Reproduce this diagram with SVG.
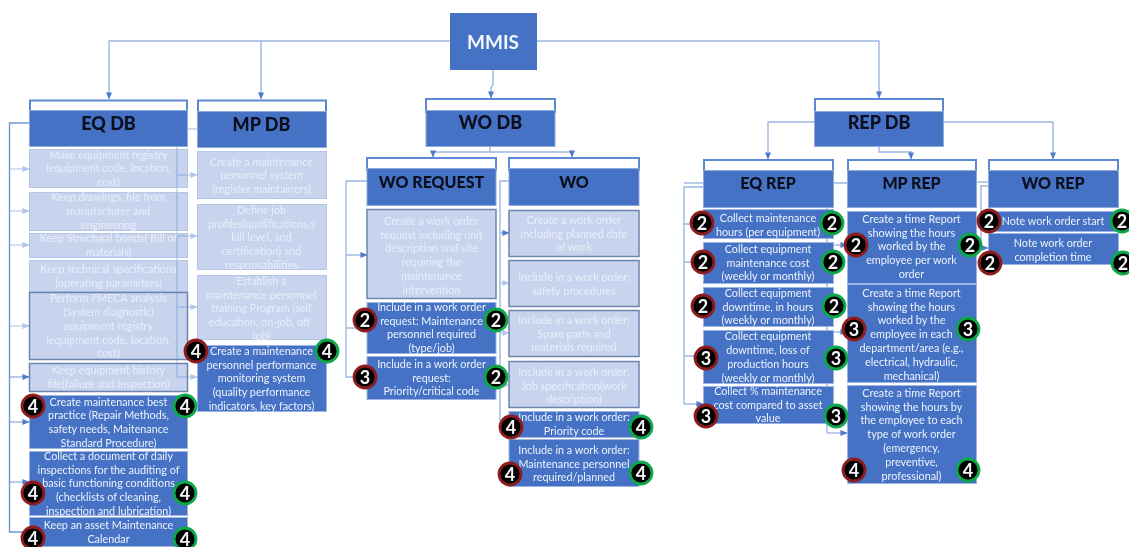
<svg xmlns="http://www.w3.org/2000/svg" width="1129" height="547" viewBox="0 0 1129 547">
<style>
text{font-family:Lato,"Liberation Sans",sans-serif}
.h{fill:#4472c4;stroke:#8eaadb;stroke-width:1}
.o{fill:#fff;stroke:#5f88d2;stroke-width:2}
.s{fill:#4472c4;stroke:#9db5e2;stroke-width:1}
.f{fill:#4472c4;fill-opacity:.3;stroke:#b4c5e7;stroke-width:1}
.d{fill:#4472c4;fill-opacity:.3;stroke:#6d84ae;stroke-width:1.5}
.ht{font-size:18px;font-weight:900;fill:#08101f;text-anchor:middle}
.hs{font-size:16px}
.t{font-size:10.8px;fill:#eef2fb;text-anchor:middle}
.ft{font-size:10.8px;fill:#e9eef9;text-anchor:middle}
.c path{fill:none;stroke:#9db6e4;stroke-width:1.4}
.c .tr{stroke:#6f96dc}
.c .lt{stroke:#c3d2ee}
.a path{marker-end:url(#arr)}
.a .lt{marker-end:url(#arl)}
.r{fill:#000;stroke:#8f1d1d;stroke-width:2.8}
.g{fill:#000;stroke:#0aa84a;stroke-width:2.8}
.n{font-size:18px;font-weight:700;fill:#f6f6f6;text-anchor:middle}
</style>
<defs>
<marker id="arr" viewBox="0 0 8 8" refX="7.500" refY="4" markerUnits="userSpaceOnUse" markerWidth="7" markerHeight="7" orient="auto"><path d="M0 0.500L8 4L0 7.500z" fill="#4f7bcb" stroke="none"/></marker>
<marker id="arl" viewBox="0 0 8 8" refX="7.500" refY="4" markerUnits="userSpaceOnUse" markerWidth="7" markerHeight="7" orient="auto"><path d="M0 0.500L8 4L0 7.500z" fill="#b4c7ea" stroke="none"/></marker>
<filter id="soft" x="-2%" y="-2%" width="104%" height="104%"><feGaussianBlur stdDeviation="0.5"/></filter>
</defs>
<g filter="url(#soft)">
<g id="connectors" class="c">
<g class="a">
<path d="M450 41H109V99"/><path d="M261 41V99"/><path d="M537 41H879V98"/><path d="M493 70V85L491 87V98"/>
<path d="M490 147V152H433V157"/><path d="M490 152H572V157"/>
<path d="M814 122H768V159"/><path d="M943 122H1053V159"/><path d="M879 147V152H911V159"/>
<path class="lt" d="M9.500 169H29"/><path class="lt" d="M9.500 211H29"/><path class="lt" d="M9.500 245H29"/><path class="lt" d="M9.500 326H29"/><path d="M9.500 377H29"/><path d="M9.500 422H29"/><path d="M9.500 482H29"/>
<path class="lt" d="M177 175H197"/><path class="lt" d="M177 236H197"/><path class="lt" d="M177 307H197"/><path class="lt" d="M177 377H197"/>
<path d="M346 255H367"/><path d="M346 328H367"/>
<path d="M500 233H509"/><path class="lt" d="M500 283H509"/><path class="lt" d="M500 333H509"/><path class="lt" d="M500 385H509"/>
<path d="M684 404H703"/><path d="M827 245H847"/><path d="M827 332H847"/><path d="M827 433H847"/><path d="M981 248H988"/>
</g>
<path class="tr" d="M29 123H9.500V532H29"/><path class="lt" d="M197 129H177V377"/>
<path d="M367 181H346V377H367"/><path d="M509 181H500V420H509"/>
<path d="M703 187H684V404"/><path d="M703 183H684"/><path d="M684 224H703M684 262H703M684 356H703"/>
<path d="M847 183H827V433"/><path d="M988 186H981V248"/><path d="M976 182H988"/>
</g>
<g id="mmis"><rect x="450" y="13" width="87" height="57" fill="#4472c4"/><text x="493" y="49" font-size="19" font-weight="700" fill="#f4f7fd" text-anchor="middle">MMIS</text></g>

<g id="eq-db"><rect class="o" x="30" y="100.500" width="157" height="12"/><rect class="h" x="29.500" y="110.500" width="158" height="36"/><text class="ht" x="108.500" y="130">EQ DB</text></g>
<g id="eq1"><rect class="f" x="29.500" y="149.500" width="158" height="38"/><text class="ft" y="158.500"><tspan x="108.500">Make equipment registry</tspan><tspan x="108.500" dy="13.800">(equipment code, location,</tspan><tspan x="108.500" dy="13.800">cost)</tspan></text></g>
<g id="eq2"><rect class="f" x="29.500" y="192.500" width="158" height="38"/><text class="ft" y="201"><tspan x="108.500">Keep drawings, file from</tspan><tspan x="108.500" dy="13.800">manufacturer and</tspan><tspan x="108.500" dy="13.800">engineering</tspan></text></g>
<g id="eq3"><rect class="f" x="29.500" y="233.500" width="158" height="24"/><text class="ft" y="242"><tspan x="108.500">Keep Structural bonds( Bill of</tspan><tspan x="108.500" dy="13.800">materials)</tspan></text></g>
<g id="eq4"><rect class="f" x="29.500" y="260.500" width="158" height="31"/><text class="ft" y="273"><tspan x="108.500">Keep technical specifications</tspan><tspan x="108.500" dy="13.800">(operating parameters)</tspan></text></g>
<g id="eq5"><rect class="d" x="29.500" y="292.500" width="158" height="67"/><text class="ft" y="302.200"><tspan x="108.500">Perform FMECA analysis</tspan><tspan x="108.500" dy="13.800">(System diagnostic)</tspan><tspan x="108.500" dy="13.800">equipment registry</tspan><tspan x="108.500" dy="13.800">(equipment code, location,</tspan><tspan x="108.500" dy="13.800">cost)</tspan></text></g>
<g id="eq6"><rect class="d" x="29.500" y="363.500" width="158" height="28"/><text class="ft" y="374"><tspan x="108.500">Keep equipment history</tspan><tspan x="108.500" dy="13.800">file(failure and Inspection)</tspan></text></g>
<g id="eq7"><rect class="s" x="29.500" y="395.500" width="158" height="53"/><text class="t" y="405.600"><tspan x="108.500">Create maintenance best</tspan><tspan x="108.500" dy="13.800">practice (Repair Methods,</tspan><tspan x="108.500" dy="13.800">safety needs, Maitenance</tspan><tspan x="108.500" dy="13.800">Standard Procedure)</tspan></text></g>
<g id="eq8"><rect class="s" x="29.500" y="451.500" width="158" height="64"/><text class="t" y="459.700"><tspan x="108.500">Collect a document of daily</tspan><tspan x="108.500" dy="13.800">inspections for the auditing of</tspan><tspan x="108.500" dy="13.800">basic functioning conditions</tspan><tspan x="108.500" dy="13.800">(checklists of cleaning,</tspan><tspan x="108.500" dy="13.800">inspection and lubrication)</tspan></text></g>
<g id="eq9"><rect class="s" x="29.500" y="517.500" width="158" height="29"/><text class="t" y="529.400"><tspan x="108.500">Keep an asset Maintenance</tspan><tspan x="108.500" dy="13.800">Calendar</tspan></text></g>

<g id="mp-db"><rect class="o" x="198" y="100.500" width="128" height="13"/><rect class="h" x="197.500" y="111.500" width="129" height="36"/><text class="ht" x="261.500" y="130.500">MP DB</text></g>
<g id="mp1"><rect class="f" x="197.500" y="151.500" width="129" height="47"/><text class="ft" y="165.500"><tspan x="261.500">Create a maintenance</tspan><tspan x="261.500" dy="13.800">personnel system</tspan><tspan x="261.500" dy="13.800">(register maintainers)</tspan></text></g>
<g id="mp2"><rect class="f" x="197.500" y="204.500" width="129" height="65"/><text class="ft" y="213.700"><tspan x="261.500">Define job</tspan><tspan x="261.500" dy="13.800">profiles(qualifications,s</tspan><tspan x="261.500" dy="13.800">kill level, and</tspan><tspan x="261.500" dy="13.800">certification) and</tspan><tspan x="261.500" dy="13.800">responsabilities</tspan></text></g>
<g id="mp3"><rect class="f" x="197.500" y="275.500" width="129" height="64"/><text class="ft" y="284.800"><tspan x="261.500">Establish a</tspan><tspan x="261.500" dy="13.800">maintenance personnel</tspan><tspan x="261.500" dy="13.800">training Program (self</tspan><tspan x="261.500" dy="13.800">education, on-job, off-</tspan><tspan x="261.500" dy="13.800">job)</tspan></text></g>
<g id="mp4"><rect class="s" x="197.500" y="345.500" width="129" height="66"/><text class="t" y="354.800"><tspan x="261.500">Create a maintenance</tspan><tspan x="261.500" dy="13.800">personnel performance</tspan><tspan x="261.500" dy="13.800">monitoring system</tspan><tspan x="261.500" dy="13.800">(quality performance</tspan><tspan x="261.500" dy="13.800">indicators, key factors)</tspan></text></g>

<g id="wo-db"><rect class="o" x="426" y="99" width="129" height="13"/><rect class="h" x="426" y="110.500" width="129" height="36"/><text class="ht" x="490.500" y="129">WO DB</text></g>
<g id="wo-request"><rect class="o" x="367" y="158" width="129" height="12"/><rect class="h" x="367" y="168.500" width="129" height="37"/><text class="ht hs" x="431.500" y="187.500">WO REQUEST</text></g>
<g id="req1"><rect class="d" x="367" y="209.500" width="129" height="89"/><text class="ft" y="224.800"><tspan x="431.500">Create a work order</tspan><tspan x="431.500" dy="13.800">request including unit</tspan><tspan x="431.500" dy="13.800">description and site</tspan><tspan x="431.500" dy="13.800">requiring the</tspan><tspan x="431.500" dy="13.800">maintenance</tspan><tspan x="431.500" dy="13.800">intervention</tspan></text></g>
<g id="req2"><rect class="s" x="367" y="302.500" width="129" height="51"/><text class="t" y="310.800"><tspan x="431.500">Include in a work order</tspan><tspan x="431.500" dy="13.800">request: Maintenance</tspan><tspan x="431.500" dy="13.800">personnel required</tspan><tspan x="431.500" dy="13.800">(type/job)</tspan></text></g>
<g id="req3"><rect class="s" x="367" y="356.500" width="129" height="43"/><text class="t" y="367.800"><tspan x="431.500">Include in a work order</tspan><tspan x="431.500" dy="13.800">request:</tspan><tspan x="431.500" dy="13.800">Priority/critical code</tspan></text></g>

<g id="wo"><rect class="o" x="509" y="158" width="130" height="12"/><rect class="h" x="509" y="168.500" width="130" height="37"/><text class="ht hs" x="574" y="187.500">WO</text></g>
<g id="wo1"><rect class="d" x="509" y="210.500" width="130" height="46"/><text class="ft" y="223.800"><tspan x="574">Create a work order</tspan><tspan x="574" dy="13.800">including planned date</tspan><tspan x="574" dy="13.800">of work</tspan></text></g>
<g id="wo2"><rect class="d" x="509" y="260.500" width="130" height="46"/><text class="ft" y="280.800"><tspan x="574">Include in a work order:</tspan><tspan x="574" dy="13.800">safety procedures</tspan></text></g>
<g id="wo3"><rect class="d" x="509" y="310.500" width="130" height="46"/><text class="ft" y="323.800"><tspan x="574">Include in a work order:</tspan><tspan x="574" dy="13.800">Spare parts and</tspan><tspan x="574" dy="13.800">materials required</tspan></text></g>
<g id="wo4"><rect class="d" x="509" y="361.500" width="130" height="46"/><text class="ft" y="375.800"><tspan x="574">Include in a work order:</tspan><tspan x="574" dy="13.800">Job specification(work</tspan><tspan x="574" dy="13.800">description)</tspan></text></g>
<g id="wo5"><rect class="s" x="509" y="411.500" width="130" height="26"/><text class="t" y="420.800"><tspan x="574">Include in a work order:</tspan><tspan x="574" dy="13.800">Priority code</tspan></text></g>
<g id="wo6"><rect class="s" x="509" y="439.500" width="130" height="47"/><text class="t" y="453.800"><tspan x="574">Include in a work order:</tspan><tspan x="574" dy="13.800">Maintenance personnel</tspan><tspan x="574" dy="13.800">required/planned</tspan></text></g>

<g id="rep-db"><rect class="o" x="815" y="99" width="128" height="14"/><rect class="h" x="814.500" y="111.500" width="129" height="35"/><text class="ht" x="879" y="129">REP DB</text></g>
<g id="eq-rep"><rect class="o" x="704" y="160" width="129" height="12"/><rect class="h" x="703.500" y="170.500" width="130" height="37"/><text class="ht hs" x="768" y="189">EQ REP</text></g>
<g id="er1"><rect class="s" x="703.500" y="209.500" width="130" height="29"/><text class="t" y="221.800"><tspan x="768">Collect maintenance</tspan><tspan x="768" dy="13.800">hours (per equipment)</tspan></text></g>
<g id="er2"><rect class="s" x="703.500" y="242.500" width="130" height="41"/><text class="t" y="252.800"><tspan x="768">Collect equipment</tspan><tspan x="768" dy="13.800">maintenance cost</tspan><tspan x="768" dy="13.800">(weekly or monthly)</tspan></text></g>
<g id="er3"><rect class="s" x="703.500" y="287.500" width="130" height="39"/><text class="t" y="296.800"><tspan x="768">Collect equipment</tspan><tspan x="768" dy="13.800">downtime, in hours</tspan><tspan x="768" dy="13.800">(weekly or monthly)</tspan></text></g>
<g id="er4"><rect class="s" x="703.500" y="330.500" width="130" height="53"/><text class="t" y="340.400"><tspan x="768">Collect equipment</tspan><tspan x="768" dy="13.800">downtime, loss of</tspan><tspan x="768" dy="13.800">production hours</tspan><tspan x="768" dy="13.800">(weekly or monthly)</tspan></text></g>
<g id="er5"><rect class="s" x="703.500" y="386.500" width="130" height="37"/><text class="t" y="394.800"><tspan x="768">Collect % maintenance</tspan><tspan x="768" dy="13.800">cost compared to asset</tspan><tspan x="768" dy="13.800">value</tspan></text></g>

<g id="mp-rep"><rect class="o" x="848" y="160" width="128" height="12"/><rect class="h" x="847.500" y="170.500" width="129" height="37"/><text class="ht hs" x="911.500" y="189">MP REP</text></g>
<g id="mr1"><rect class="s" x="847.500" y="211.500" width="129" height="72"/><text class="t" y="222.800"><tspan x="911.500">Create a time Report</tspan><tspan x="911.500" dy="13.800">showing the hours</tspan><tspan x="911.500" dy="13.800">worked by the</tspan><tspan x="911.500" dy="13.800">employee per work</tspan><tspan x="911.500" dy="13.800">order</tspan></text></g>
<g id="mr2"><rect class="s" x="847.500" y="284.500" width="129" height="98"/><text class="t" y="296.800"><tspan x="911.500">Create a time Report</tspan><tspan x="911.500" dy="13.800">showing the hours</tspan><tspan x="911.500" dy="13.800">worked by the</tspan><tspan x="911.500" dy="13.800">employee in each</tspan><tspan x="911.500" dy="13.800">department/area (e.g.,</tspan><tspan x="911.500" dy="13.800">electrical, hydraulic,</tspan><tspan x="911.500" dy="13.800">mechanical)</tspan></text></g>
<g id="mr3"><rect class="s" x="847.500" y="385.500" width="129" height="98"/><text class="t" y="396.800"><tspan x="911.500">Create a time Report</tspan><tspan x="911.500" dy="13.800">showing the hours by</tspan><tspan x="911.500" dy="13.800">the employee to each</tspan><tspan x="911.500" dy="13.800">type of work order</tspan><tspan x="911.500" dy="13.800">(emergency,</tspan><tspan x="911.500" dy="13.800">preventive,</tspan><tspan x="911.500" dy="13.800">professional)</tspan></text></g>

<g id="wo-rep"><rect class="o" x="989" y="160" width="129" height="12"/><rect class="h" x="988.500" y="170.500" width="130" height="37"/><text class="ht hs" x="1053" y="189">WO REP</text></g>
<g id="wr1"><rect class="s" x="988.500" y="211.500" width="130" height="20"/><text class="t" y="224.800" x="1053">Note work order start</text></g>
<g id="wr2"><rect class="s" x="988.500" y="233.500" width="130" height="31"/><text class="t" y="246.800"><tspan x="1053">Note work order</tspan><tspan x="1053" dy="13.800">completion time</tspan></text></g>

<g id="badges">
<g id="b-red"><circle class="r" cx="33" cy="406" r="11"/><circle class="r" cx="33" cy="493" r="11"/><circle class="r" cx="33" cy="538" r="11"/><circle class="r" cx="196" cy="351" r="11"/><circle class="r" cx="365" cy="320" r="11"/><circle class="r" cx="365" cy="377" r="11"/><circle class="r" cx="511" cy="427" r="11"/><circle class="r" cx="510" cy="474" r="11"/><circle class="r" cx="702" cy="223" r="11"/><circle class="r" cx="703" cy="262" r="11"/><circle class="r" cx="703" cy="306" r="11"/><circle class="r" cx="706" cy="358" r="11"/><circle class="r" cx="706" cy="416" r="11"/><circle class="r" cx="856" cy="245" r="11"/><circle class="r" cx="854" cy="329" r="11"/><circle class="r" cx="854" cy="470" r="11"/><circle class="r" cx="989" cy="221" r="11"/><circle class="r" cx="990" cy="263" r="11"/></g>
<g id="b-green"><circle class="g" cx="185" cy="406" r="11"/><circle class="g" cx="185" cy="493" r="11"/><circle class="g" cx="185" cy="539" r="11"/><circle class="g" cx="327" cy="351" r="11"/><circle class="g" cx="496" cy="320" r="11"/><circle class="g" cx="496" cy="377" r="11"/><circle class="g" cx="641" cy="427" r="11"/><circle class="g" cx="641" cy="473" r="11"/><circle class="g" cx="832" cy="223" r="11"/><circle class="g" cx="833" cy="262" r="11"/><circle class="g" cx="834" cy="306" r="11"/><circle class="g" cx="836" cy="358" r="11"/><circle class="g" cx="836" cy="416" r="11"/><circle class="g" cx="970" cy="245" r="11"/><circle class="g" cx="968" cy="329" r="11"/><circle class="g" cx="968" cy="470" r="11"/><circle class="g" cx="1122" cy="221" r="11"/><circle class="g" cx="1123" cy="263" r="11"/></g>
<g id="b-digits"><text class="n" x="33" y="412.500">4</text><text class="n" x="33" y="499.500">4</text><text class="n" x="33" y="544.500">4</text><text class="n" x="196" y="357.500">4</text><text class="n" x="365" y="326.500">2</text><text class="n" x="365" y="383.500">3</text><text class="n" x="511" y="433.500">4</text><text class="n" x="510" y="480.500">4</text><text class="n" x="702" y="229.500">2</text><text class="n" x="703" y="268.500">2</text><text class="n" x="703" y="312.500">2</text><text class="n" x="706" y="364.500">3</text><text class="n" x="706" y="422.500">3</text><text class="n" x="856" y="251.500">2</text><text class="n" x="854" y="335.500">3</text><text class="n" x="854" y="476.500">4</text><text class="n" x="989" y="227.500">2</text><text class="n" x="990" y="269.500">2</text>
<text class="n" x="185" y="412.500">4</text><text class="n" x="185" y="499.500">4</text><text class="n" x="185" y="545.500">4</text><text class="n" x="327" y="357.500">4</text><text class="n" x="496" y="326.500">2</text><text class="n" x="496" y="383.500">2</text><text class="n" x="641" y="433.500">4</text><text class="n" x="641" y="479.500">4</text><text class="n" x="832" y="229.500">2</text><text class="n" x="833" y="268.500">2</text><text class="n" x="834" y="312.500">2</text><text class="n" x="836" y="364.500">3</text><text class="n" x="836" y="422.500">3</text><text class="n" x="970" y="251.500">2</text><text class="n" x="968" y="335.500">3</text><text class="n" x="968" y="476.500">4</text><text class="n" x="1122" y="227.500">2</text><text class="n" x="1123" y="269.500">2</text></g>
</g>
</g>
</svg>
